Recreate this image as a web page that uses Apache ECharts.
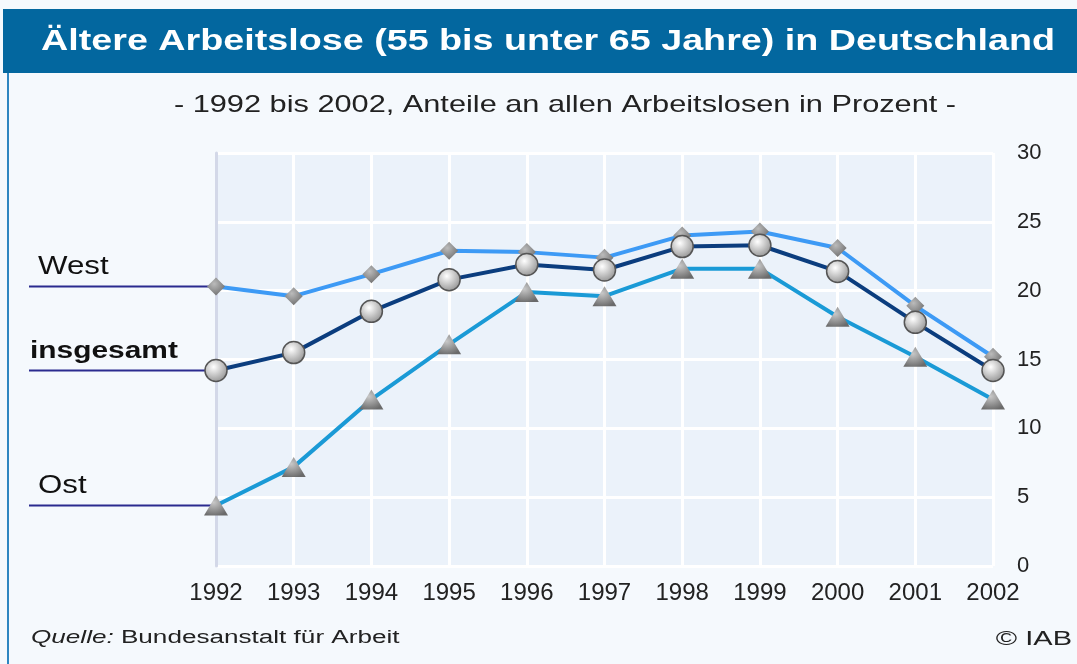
<!DOCTYPE html>
<html><head><meta charset="utf-8">
<script src="https://cdn.jsdelivr.net/npm/echarts@6/dist/echarts.min.js"></script>
<style>html,body{margin:0;padding:0;background:#fff}#c{width:1077px;height:664px}</style>
</head><body><div id="c"></div>
<script>
const years = ['1992','1993','1994','1995','1996','1997','1998','1999','2000','2001','2002'];
const west = [20.3,19.6,21.2,22.9,22.8,22.4,24.0,24.3,23.1,18.9,15.2];
const gesamt = [14.2,15.5,18.5,20.8,21.9,21.5,23.2,23.3,21.4,17.7,14.2];
const ost = [4.4,7.2,12.1,16.1,19.9,19.6,21.6,21.6,18.1,15.2,12.1];
const yTicks = [0,5,10,15,20,25,30];
const seriesNames = ['West','insgesamt','Ost'];

const font = 'Liberation Sans, Arial, sans-serif';
const chart = echarts.init(document.getElementById('c'));
function rg(c1,c2){return {type:'radial',x:0.4,y:0.35,r:0.7,colorStops:[{offset:0,color:c1},{offset:1,color:c2}]};}
const option = {
  backgroundColor:'#F5F9FD',
  animation:false,
  grid:{left:216,right:84,top:153,bottom:98,show:true,backgroundColor:'#EBF2FA',borderWidth:0},
  xAxis:{type:'category',data:years,boundaryGap:false,
    axisLine:{show:false},axisTick:{show:false},
    axisLabel:{color:'#222',fontSize:24,fontFamily:font,margin:15},
    splitLine:{show:true,lineStyle:{color:'#fff',width:3}}},
  yAxis:[{type:'value',position:'right',min:0,max:30,interval:5,
    axisLine:{show:false},axisTick:{show:false},
    axisLabel:{color:'#222',fontSize:22,fontFamily:font,margin:24,
      formatter:v=>yTicks.includes(v)?String(v):''},
    splitLine:{show:true,lineStyle:{color:'#fff',width:3}}},
    {type:'value',position:'left',min:0,max:30,interval:5,
    axisLine:{show:true,lineStyle:{color:'#D3D8E8',width:3}},axisTick:{show:false},axisLabel:{show:false},splitLine:{show:false}}],
  series:[
    {name:seriesNames[0],type:'line',data:west,symbol:'diamond',symbolSize:[18,18],z:3,
      lineStyle:{color:'#3D9AF5',width:4},itemStyle:{color:rg('#bbbbbb','#6f6f6f'),borderWidth:0}},
    {name:seriesNames[1],type:'line',data:gesamt,symbol:'circle',symbolSize:22,z:4,
      lineStyle:{color:'#0B3D7E',width:4},itemStyle:{color:rg('#ffffff','#8f8f8f'),borderColor:'#555',borderWidth:1.5}},
    {name:seriesNames[2],type:'line',data:ost,symbol:'triangle',symbolSize:[24,20],z:3,
      lineStyle:{color:'#1A9AD6',width:4},itemStyle:{color:rg('#c8c8c8','#6a6a6a'),borderWidth:0}}
  ],
  graphic:[]
};
chart.setOption(option);

const first = [west[0],gesamt[0],ost[0]];
const g = [
  {type:'rect',shape:{x:3,y:9,width:1074,height:64},style:{fill:'#03679F'}},
  {type:'rect',shape:{x:7,y:73,width:2,height:591},style:{fill:'#2E86C1'}},
  {type:'text',x:548,y:42,scaleX:1.3,style:{text:'Ältere Arbeitslose (55 bis unter 65 Jahre) in Deutschland',fill:'#fff',font:'bold 29px '+font,textAlign:'center',textVerticalAlign:'middle'}},
  {type:'text',x:565,y:105,scaleX:1.28,style:{text:'- 1992 bis 2002, Anteile an allen Arbeitslosen in Prozent -',fill:'#222',font:'24px '+font,textAlign:'center',textVerticalAlign:'middle'}},
  {type:'text',x:31,y:638,scaleX:1.45,style:{rich:{i:{fontStyle:'italic',fontSize:18,fontFamily:font,fill:'#222'},n:{fontSize:18,fontFamily:font,fill:'#222'}},text:'{i|Quelle:}{n| Bundesanstalt für Arbeit}',textVerticalAlign:'middle'}},
  {type:'text',x:1072,y:639,scaleX:1.45,style:{text:'© IAB',fill:'#222',font:'20px '+font,textAlign:'right',textVerticalAlign:'middle'}}
];
const labelX = [38,30,38];
const labelScale = [1.25,1.3,1.25];
const labelFont = ['25px ','bold 23px ','25px '];
for(let i=0;i<3;i++){
  const p = chart.convertToPixel({xAxisIndex:0,yAxisIndex:0},[0,first[i]]);
  g.push({type:'line',shape:{x1:29,y1:p[1],x2:p[0],y2:p[1]},style:{stroke:'#2B2B8F',lineWidth:2},z:1});
  g.push({type:'text',x:labelX[i],y:p[1]-19,scaleX:labelScale[i],style:{text:seriesNames[i],fill:'#111',font:labelFont[i]+font,textVerticalAlign:'middle'}});
}
chart.setOption({graphic:g});
</script></body></html>
